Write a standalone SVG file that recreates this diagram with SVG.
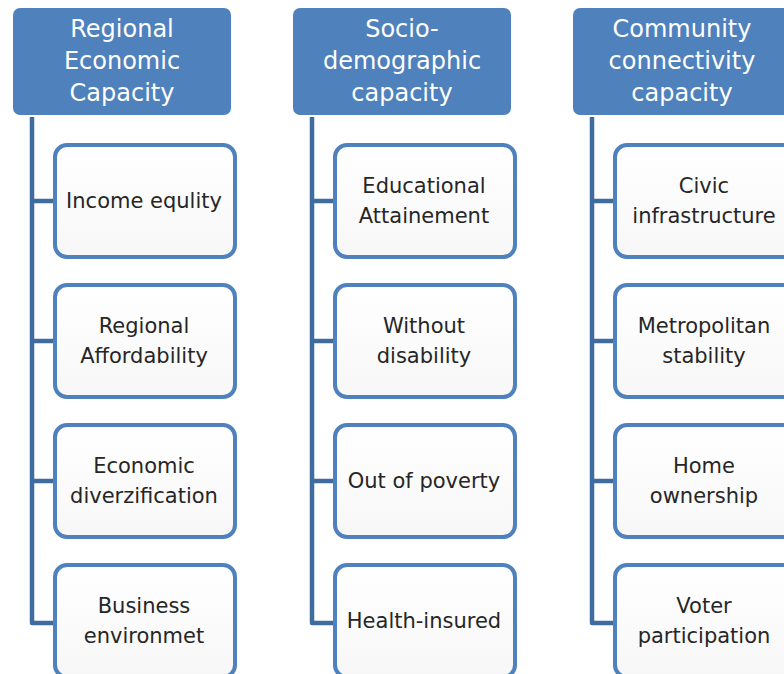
<svg xmlns="http://www.w3.org/2000/svg" width="784" height="674" viewBox="0 0 784 674">
<style>
.hdr{fill:#4F81BD;}
.ht{font-family:"DejaVu Sans",sans-serif;font-size:24px;fill:#FFFFFF;text-anchor:middle;}
.box{fill:url(#g);stroke:#4F81BD;stroke-width:4;}
.ct{font-family:"DejaVu Sans",sans-serif;font-size:21px;fill:#262626;text-anchor:middle;}
.ln{fill:none;stroke:#3E6C9F;stroke-width:4.5;stroke-linejoin:round;}
</style>
<defs>
<linearGradient id="g" x1="0" y1="0" x2="0" y2="1">
<stop offset="0" stop-color="#FFFFFF"/>
<stop offset="1" stop-color="#F7F7F7"/>
</linearGradient>
</defs>
<rect width="784" height="674" fill="#FFFFFF"/>
<g id="connectors">
<path class="ln" d="M32 117 V623 H55 M32 201 H55 M32 341 H55 M32 481 H55"/>
<path class="ln" d="M312 117 V623 H335 M312 201 H335 M312 341 H335 M312 481 H335"/>
<path class="ln" d="M592 117 V623 H615 M592 201 H615 M592 341 H615 M592 481 H615"/>
</g>
<g id="h1"><rect class="hdr" x="13" y="8" width="218" height="107" rx="7"/>
<text class="ht" x="122" y="37">Regional</text><text class="ht" x="122" y="69">Economic</text><text class="ht" x="122" y="101">Capacity</text></g>
<g id="h2"><rect class="hdr" x="293" y="8" width="218" height="107" rx="7"/>
<text class="ht" x="402" y="37">Socio-</text><text class="ht" x="402" y="69">demographic</text><text class="ht" x="402" y="101">capacity</text></g>
<g id="h3"><rect class="hdr" x="573" y="8" width="218" height="107" rx="7"/>
<text class="ht" x="682" y="37">Community</text><text class="ht" x="682" y="69">connectivity</text><text class="ht" x="682" y="101">capacity</text></g>

<g id="c1a"><rect class="box" x="55" y="145" width="180" height="112" rx="12"/><text class="ct" x="144" y="208">Income equlity</text></g>
<g id="c1b"><rect class="box" x="55" y="285" width="180" height="112" rx="12"/><text class="ct" x="144" y="333">Regional</text><text class="ct" x="144" y="363">Affordability</text></g>
<g id="c1c"><rect class="box" x="55" y="425" width="180" height="112" rx="12"/><text class="ct" x="144" y="473">Economic</text><text class="ct" x="144" y="503">diverzification</text></g>
<g id="c1d"><rect class="box" x="55" y="565" width="180" height="112" rx="12"/><text class="ct" x="144" y="613">Business</text><text class="ct" x="144" y="643">environmet</text></g>

<g id="c2a"><rect class="box" x="335" y="145" width="180" height="112" rx="12"/><text class="ct" x="424" y="193">Educational</text><text class="ct" x="424" y="223">Attainement</text></g>
<g id="c2b"><rect class="box" x="335" y="285" width="180" height="112" rx="12"/><text class="ct" x="424" y="333">Without</text><text class="ct" x="424" y="363">disability</text></g>
<g id="c2c"><rect class="box" x="335" y="425" width="180" height="112" rx="12"/><text class="ct" x="424" y="488">Out of poverty</text></g>
<g id="c2d"><rect class="box" x="335" y="565" width="180" height="112" rx="12"/><text class="ct" x="424" y="628">Health-insured</text></g>

<g id="c3a"><rect class="box" x="615" y="145" width="180" height="112" rx="12"/><text class="ct" x="704" y="193">Civic</text><text class="ct" x="704" y="223">infrastructure</text></g>
<g id="c3b"><rect class="box" x="615" y="285" width="180" height="112" rx="12"/><text class="ct" x="704" y="333">Metropolitan</text><text class="ct" x="704" y="363">stability</text></g>
<g id="c3c"><rect class="box" x="615" y="425" width="180" height="112" rx="12"/><text class="ct" x="704" y="473">Home</text><text class="ct" x="704" y="503">ownership</text></g>
<g id="c3d"><rect class="box" x="615" y="565" width="180" height="112" rx="12"/><text class="ct" x="704" y="613">Voter</text><text class="ct" x="704" y="643">participation</text></g>
</svg>
